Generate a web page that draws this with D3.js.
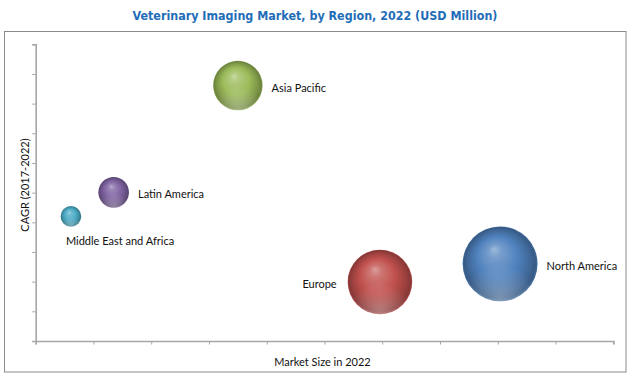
<!DOCTYPE html>
<html>
<head>
<meta charset="utf-8">
<script src="https://cdn.jsdelivr.net/npm/d3@7"></script>
<style>
  html, body { margin: 0; padding: 0; background: #fff; }
  svg { display: block; }
</style>
</head>
<body>
<svg id="chart" width="633" height="379"></svg>
<script>
// ---- data ----
const regions = ["North America", "Europe", "Asia Pacific", "Latin America", "Middle East and Africa"];
const marketSize = [8.04, 5.96, 3.50, 1.35, 0.61];   // x (axis units), also bubble size
const cagr = [2.60, 1.99, 8.61, 5.01, 4.20];         // y (axis units)
const baseColors = ["#4F81BD", "#C0504D", "#9BBB59", "#8064A2", "#4BACC6"];
const labelSide = ["right", "left", "right", "right", "below"];
const xTicks = d3.range(0, 11, 1);
const yTicks = d3.range(0, 11, 1);

const svg = d3.select("#chart");
const m = { left: 35.7, right: 613.3, top: 44.3, bottom: 341 };

const x = d3.scaleLinear().domain([0, 10]).range([m.left, m.right]);
const y = d3.scaleLinear().domain([0, 10]).range([m.bottom, m.top]);
const r = d3.scaleSqrt().domain([0, 10]).range([0, 41.8]);

// outer border
svg.append("rect").attr("x", 4.5).attr("y", 31.5).attr("width", 621.5).attr("height", 340.5)
  .attr("fill", "none").attr("stroke", "#8a8a8a").attr("stroke-width", 1);

// title
svg.append("text").attr("x", 315).attr("y", 19.5).attr("text-anchor", "middle")
  .attr("font-family", "'DejaVu Sans Condensed', 'DejaVu Sans', sans-serif")
  .attr("font-weight", "bold").attr("font-size", 12.4).attr("fill", "#1f6db8")
  .text("Veterinary Imaging Market, by Region, 2022 (USD Million)");

// axes
const xAxis = d3.axisBottom(x).tickValues(xTicks).tickSize(3.5).tickFormat("");
const yAxis = d3.axisLeft(y).tickValues(yTicks).tickSize(3.5).tickFormat("");
const gx = svg.append("g").attr("transform", `translate(0,${m.bottom})`).call(xAxis);
const gy = svg.append("g").attr("transform", `translate(${m.left},0)`).call(yAxis);
[gx, gy].forEach(g => {
  g.select(".domain").attr("stroke", "#a6a6a6").attr("stroke-width", 1.6);
  g.selectAll(".tick line").attr("stroke", "#a6a6a6").attr("stroke-width", 1);
});

// axis titles
const labFont = "Lato, 'Open Sans', sans-serif";
svg.append("text").attr("x", 322.5).attr("y", 366).attr("text-anchor", "middle")
  .attr("font-family", labFont).attr("font-size", 11).attr("fill", "#111")
  .text("Market Size in 2022");
svg.append("text").attr("transform", "translate(29,185) rotate(-90)").attr("text-anchor", "middle")
  .attr("font-family", labFont).attr("font-size", 11).attr("fill", "#111")
  .text("CAGR (2017-2022)");

// gradients
const defs = svg.append("defs");
function shade(c, k) { return d3.interpolateRgb(c, k > 0 ? "#ffffff" : "#000000")(Math.abs(k)); }
baseColors.forEach((c, i) => {
  const g = defs.append("radialGradient").attr("id", "g" + i)
    .attr("cx", "50%").attr("cy", "50%").attr("r", "50%").attr("fx", "42%").attr("fy", "30%");
  [[0, shade(c, 0.45)], [0.18, shade(c, 0.22)], [0.55, c], [0.84, shade(c, -0.2)], [0.95, shade(c, -0.3)], [1, shade(c, -0.12)]]
    .forEach(([o, col]) => g.append("stop").attr("offset", o).attr("stop-color", col));
});
const refl = defs.append("radialGradient").attr("id", "refl")
  .attr("cx", "50%").attr("cy", "100%").attr("r", "50%");
refl.append("stop").attr("offset", 0).attr("stop-color", "#fff").attr("stop-opacity", 0.35);
refl.append("stop").attr("offset", 1).attr("stop-color", "#fff").attr("stop-opacity", 0);

// bubbles
const data = regions.map((name, i) => ({ name, xv: marketSize[i], yv: cagr[i], i, side: labelSide[i] }));
const order = data.slice().sort((a, b) => b.xv - a.xv);
const bg = svg.append("g");
bg.selectAll("circle.b").data(order).join("circle").attr("class", "b")
  .attr("cx", d => x(d.xv)).attr("cy", d => y(d.yv)).attr("r", d => r(d.xv))
  .attr("fill", d => `url(#g${d.i})`);
bg.selectAll("circle.rf").data(order).join("circle").attr("class", "rf")
  .attr("cx", d => x(d.xv)).attr("cy", d => y(d.yv)).attr("r", d => r(d.xv))
  .attr("fill", "url(#refl)");

// labels
svg.append("g").selectAll("text").data(data).join("text")
  .attr("font-family", labFont).attr("font-size", 11).attr("fill", "#111")
  .attr("dominant-baseline", "central")
  .attr("text-anchor", d => d.side === "left" ? "end" : "start")
  .attr("x", d => d.side === "right" ? x(d.xv) + r(d.xv) + 9 : d.side === "left" ? x(d.xv) - r(d.xv) - 11 : x(d.xv) - 5)
  .attr("y", d => d.side === "below" ? y(d.yv) + r(d.xv) + 14 : y(d.yv) + 1.5)
  .text(d => d.name);
</script>
</body>
</html>
